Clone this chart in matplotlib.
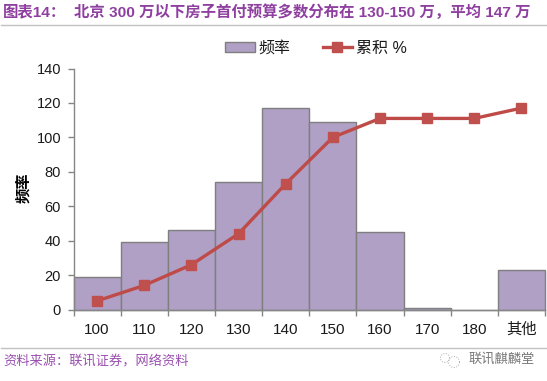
import matplotlib
matplotlib.use('Agg')
import matplotlib.pyplot as plt
from matplotlib.lines import Line2D
from matplotlib.patches import Patch, Arc

plt.rcParams['font.family'] = ['Liberation Sans', 'Noto Sans CJK SC', 'DejaVu Sans']

categories = ['100', '110', '120', '130', '140', '150', '160', '170', '180', '其他']
freq = [19, 39, 46, 74, 117, 109, 45, 1, 0, 23]
cumulative = [5, 14, 26, 44, 73, 100, 111, 111, 111, 117]
yticks = [0, 20, 40, 60, 80, 100, 120, 140]
title_left = '图表14：'
title_main = '北京 300 万以下房子首付预算多数分布在 130-150 万，平均 147 万'
source = '资料来源：联讯证券，网络资料'
watermark = '联讯麒麟堂'

W, H = 547, 381
fig = plt.figure(figsize=(W / 100, H / 100), dpi=100, facecolor='white')
ax = fig.add_axes([73.5 / W, 1 - 309.5 / H, 471.5 / W, 241 / H])
x = list(range(len(categories)))
ax.bar(x, freq, width=1.0, color='#b0a0c6', edgecolor='#7f7f7f', linewidth=1.0, zorder=2, clip_on=False)
ax.plot(x, cumulative, color='#be4b48', linewidth=2.4, marker='s', markersize=6.5,
        markerfacecolor='#c0504d', markeredgecolor='#c0504d', zorder=3)
ax.set_xlim(-0.5, 9.5)
ax.set_ylim(0, 140)
ax.set_yticks(yticks)
ax.set_xticks([i - 0.5 for i in range(11)], minor=False)
ax.set_xticklabels([''] * 11)
for i, c in zip(x, categories):
    ax.annotate(c, (i, 0), xytext=(0, -14.5), textcoords='offset points', xycoords='data',
                ha='center', va='center', fontsize=11, color='#1a1a1a')
for s in ['top', 'right']:
    ax.spines[s].set_visible(False)
for s in ['left', 'bottom']:
    ax.spines[s].set_color('#868686')
    ax.spines[s].set_linewidth(1.0)
ax.tick_params(axis='x', direction='out', length=4, color='#868686', width=1.0)
ax.tick_params(axis='y', direction='out', length=4, color='#868686', width=1.0,
               labelsize=10.5, labelcolor='#1a1a1a', pad=5)
ax.set_ylabel('频率', fontsize=11, fontweight='bold', color='black', labelpad=0)
ax.yaxis.set_label_coords((31 - 73.5) / 471.5, (309.5 - 188) / 241)

fig.text(3 / W, 1 - 12.5 / H, title_left, fontsize=11.1, fontweight='bold', color='#8f3f9f', va='center')
fig.text(74 / W, 1 - 12.5 / H, title_main, fontsize=11.1, fontweight='bold', color='#8f3f9f', va='center')
fig.add_artist(Line2D([1 / W, 546 / W], [1 - 24.5 / H] * 2, color='#c4c0c4', lw=1.0))
fig.add_artist(Line2D([1 / W, 546 / W], [1 - 348 / H] * 2, color='#c4c0c4', lw=1.0))
fig.text(3 / W, 1 - 362 / H, source, fontsize=9.5, color='#9a4fb0', va='center')
fig.text(468 / W, 1 - 359 / H, watermark, fontsize=9.5, color='#777777', va='center')

handles = [Patch(facecolor='#b0a0c6', edgecolor='#7f7f7f', label='频率'),
           Line2D([], [], color='#be4b48', lw=2.4, marker='s', markersize=6.5, markerfacecolor='#c0504d',
                  markeredgecolor='#c0504d', label='累积 %')]
fig.legend(handles=handles, loc='center', bbox_to_anchor=(316 / W, 1 - 48 / H), ncol=2, frameon=False,
           fontsize=11.5, handlelength=1.85, handleheight=0.56, columnspacing=2.0, handletextpad=0.25,
           labelcolor='#1a1a1a')

fig.add_artist(Arc((445 / W, 1 - 358 / H), 9 / W, 9 / H, color='#aaaaaa', lw=0.7, ls=':', transform=fig.transFigure))
fig.add_artist(Arc((454 / W, 1 - 362 / H), 11 / W, 11 / H, color='#aaaaaa', lw=0.7, ls=':', transform=fig.transFigure))
fig.savefig('out.png', dpi=100, facecolor='white')
